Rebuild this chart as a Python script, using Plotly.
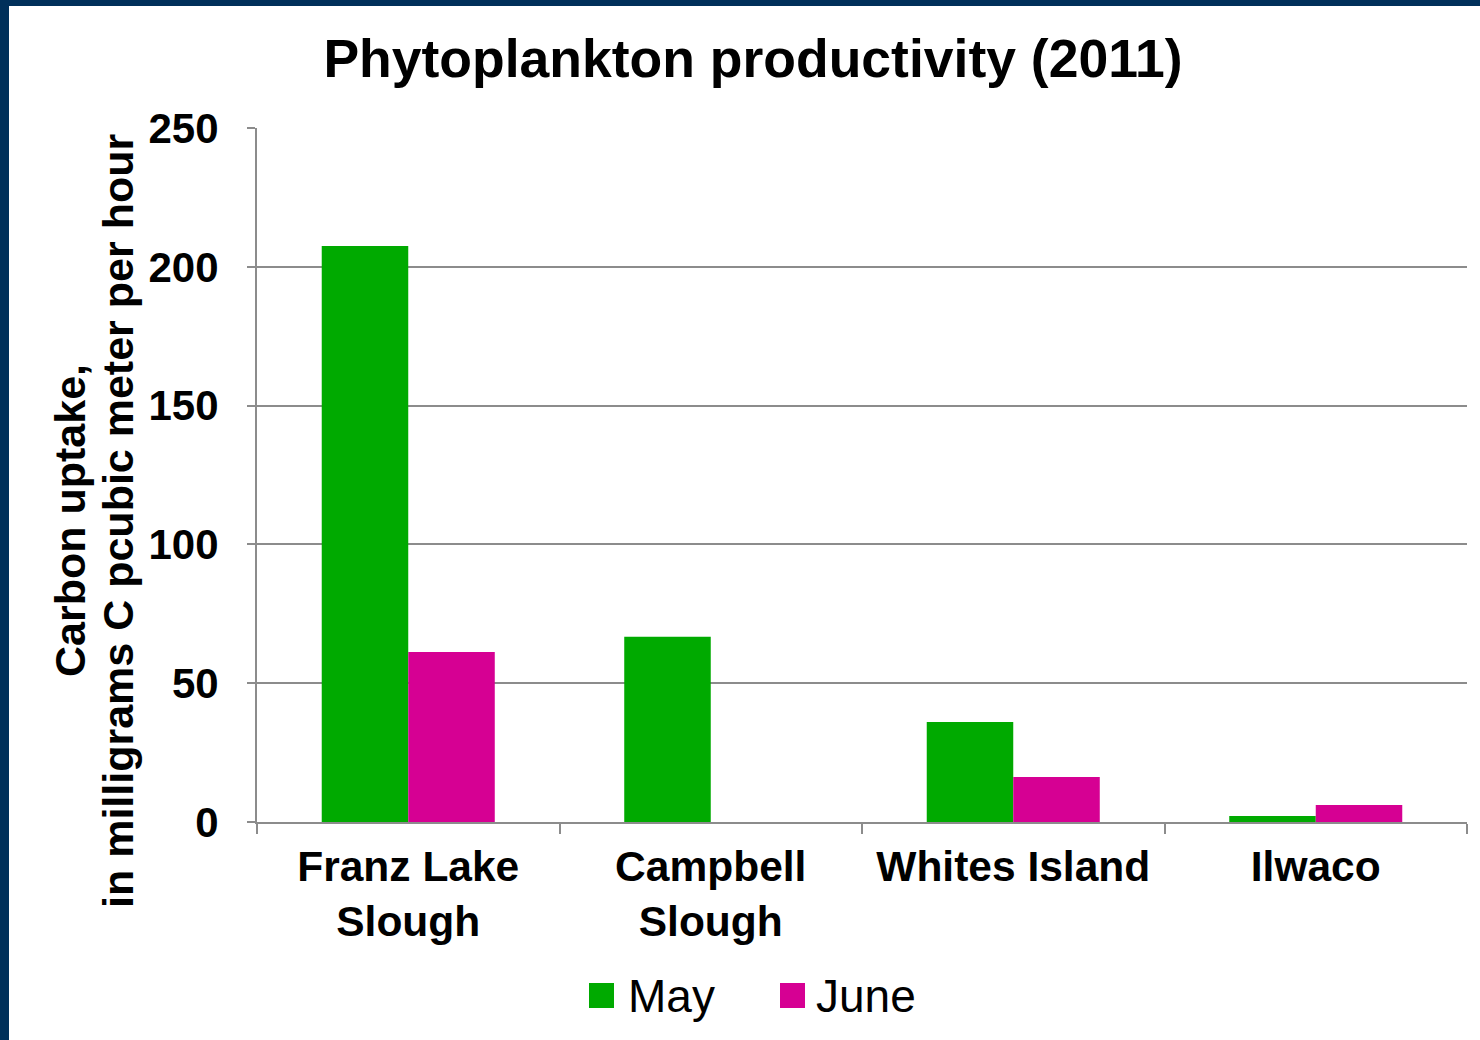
import plotly.graph_objects as go

# Sampling sites and carbon uptake (mg C per cubic meter per hour)
sites = ["Franz Lake<br>Slough", "Campbell<br>Slough", "Whites Island", "Ilwaco"]
may_uptake = [207.5, 66.7, 36.0, 2.2]
june_uptake = [61.2, None, 16.2, 6.1]
series_names = ["May", "June"]
series_colors = ["#00AA00", "#D60093"]
y_ticks = [0, 50, 100, 150, 200, 250]
y_title_lines = ["Carbon uptake,", "in milligrams C pcubic meter per hour"]

FONT = "Liberation Sans, Arial, sans-serif"
BORDER = "#00305A"
GRID = "#8C8C8C"

W, H = 1480, 1040
L, R, T, B = 257, 13, 128, 218
PW, PH = W - L - R, H - T - B


def px_x(px):
    return (px - L) / PW


def px_y(py):
    return (H - B - py) / PH


fig = go.Figure()
for name, vals, color in zip(series_names, [may_uptake, june_uptake], series_colors):
    fig.add_trace(go.Bar(x=sites, y=vals, name=name, marker_color=color,
                         marker_line_width=0, showlegend=False))

shapes = [
    # dark frame along the left and top edges
    dict(type="rect", xref="paper", yref="paper", x0=px_x(0), x1=px_x(9),
         y0=px_y(H), y1=px_y(0), fillcolor=BORDER, line_width=0, layer="above"),
    dict(type="rect", xref="paper", yref="paper", x0=px_x(0), x1=px_x(W),
         y0=px_y(6), y1=px_y(0), fillcolor=BORDER, line_width=0, layer="above"),
]
annotations = []

# y-axis title, one rotated line per annotation
for line, cx in zip(y_title_lines, [70, 118]):
    annotations.append(dict(text=line, xref="paper", yref="paper", x=px_x(cx), y=px_y(521),
                            xanchor="center", yanchor="middle", textangle=-90, showarrow=False,
                            font=dict(family=FONT, size=43, color="black", weight="bold")))

# legend: colored squares with labels beneath the plot
legend_items = [(589, 626), (780, 814)]
for (sx, tx), name, color in zip(legend_items, series_names, series_colors):
    shapes.append(dict(type="rect", xref="paper", yref="paper",
                       x0=px_x(sx), x1=px_x(sx + 25), y0=px_y(1008), y1=px_y(983),
                       fillcolor=color, line_width=0))
    annotations.append(dict(text=name, xref="paper", yref="paper", x=px_x(tx), y=px_y(996),
                            xanchor="left", yanchor="middle", showarrow=False,
                            font=dict(family=FONT, size=46, color="black")))

fig.update_layout(
    width=W, height=H,
    margin=dict(l=L, r=R, t=T, b=B),
    paper_bgcolor="white", plot_bgcolor="white",
    barmode="group", bargap=0.428, bargroupgap=0,
    title=dict(text="Phytoplankton productivity (2011)", x=753 / W, y=1 - 58 / H,
               xanchor="center", yanchor="middle", xref="container", yref="container",
               font=dict(family=FONT, size=53.5, color="black", weight="bold")),
    shapes=shapes, annotations=annotations,
    font=dict(family=FONT, color="black"),
)

fig.update_xaxes(
    tickson="boundaries", ticks="outside", ticklen=10, tickwidth=2, tickcolor=GRID,
    showline=True, linecolor=GRID, linewidth=2, showgrid=False,
    ticklabelstandoff=6,
    tickfont=dict(family=FONT, size=42.5, color="black", weight="bold"),
)
fig.update_yaxes(
    range=[0, 250], tickvals=y_ticks, ticks="outside", ticklen=8, tickwidth=2,
    tickcolor=GRID, showline=True, linecolor=GRID, linewidth=2,
    showgrid=True, gridcolor=GRID, gridwidth=2, zeroline=False,
    ticklabelstandoff=20,
    tickfont=dict(family=FONT, size=42, color="black", weight="bold"),
)

fig.write_html("out.html")
